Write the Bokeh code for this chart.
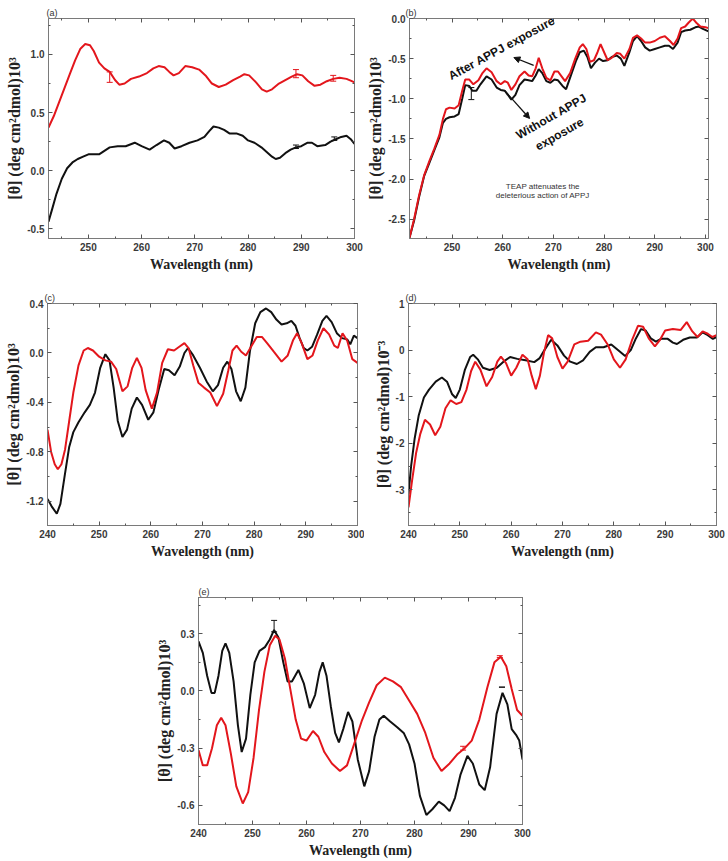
from bokeh.plotting import figure
from bokeh.models import (Range1d, FixedTicker, PrintfTickFormatter, LinearAxis, Label,
                          Arrow, NormalHead, Whisker, TeeHead, ColumnDataSource, Spacer,
                          CustomJSTickFormatter)
from bokeh.layouts import column, row
from bokeh.embed import file_html
from bokeh.resources import INLINE

# ---------------- data (wavelength nm, ellipticity) ----------------
a_red = [(242.5, 0.37), (243.5, 0.47), (244.5, 0.59), (245.5, 0.71), (246.5, 0.83), (247.5, 0.95),
         (248.5, 1.05), (249.4, 1.09), (250.3, 1.08), (251.0, 1.03), (252.0, 0.93), (253.0, 0.88),
         (254.0, 0.85), (255.0, 0.78), (255.8, 0.74), (256.8, 0.75), (258.0, 0.79), (259.5, 0.81),
         (261.0, 0.84), (262.2, 0.88), (263.2, 0.90), (264.3, 0.89), (265.2, 0.85), (266.0, 0.82),
         (267.0, 0.84), (268.2, 0.90), (269.5, 0.89), (270.8, 0.87), (272.0, 0.82), (273.2, 0.75),
         (274.5, 0.72), (275.8, 0.74), (277.2, 0.78), (278.5, 0.81), (279.3, 0.83), (280.2, 0.82),
         (281.5, 0.76), (282.6, 0.70), (283.5, 0.68), (284.5, 0.70), (285.8, 0.75), (287.0, 0.78),
         (288.2, 0.81), (289.2, 0.83), (290.2, 0.82), (291.3, 0.77), (292.5, 0.73), (293.6, 0.74),
         (294.8, 0.77), (296.0, 0.79), (297.2, 0.80), (298.5, 0.79), (299.5, 0.77), (300.0, 0.76)]
a_blk = [(242.5, -0.44), (243.2, -0.33), (244.0, -0.20), (245.0, -0.07), (246.0, 0.02), (247.0, 0.07),
         (248.0, 0.10), (249.0, 0.12), (250.0, 0.14), (251.0, 0.14), (252.0, 0.14), (253.0, 0.17),
         (254.0, 0.20), (255.5, 0.21), (257.0, 0.21), (258.7, 0.24), (260.0, 0.21), (261.5, 0.18),
         (262.8, 0.22), (264.2, 0.26), (265.2, 0.24), (266.2, 0.19), (267.5, 0.21), (269.0, 0.24),
         (270.5, 0.26), (271.8, 0.29), (272.7, 0.34), (273.5, 0.38), (274.5, 0.37), (275.5, 0.35),
         (276.5, 0.32), (277.8, 0.32), (279.0, 0.30), (280.0, 0.26), (281.2, 0.24), (282.5, 0.20),
         (283.5, 0.16), (284.5, 0.12), (285.2, 0.10), (286.0, 0.11), (287.0, 0.15), (288.0, 0.18),
         (289.0, 0.20), (290.0, 0.21), (291.2, 0.24), (292.0, 0.24), (293.0, 0.21), (294.5, 0.22),
         (295.5, 0.25), (296.5, 0.27), (297.5, 0.29), (298.5, 0.30), (299.3, 0.27), (300.0, 0.23)]
b_red = [(241.6, -2.73), (242.5, -2.50), (243.5, -2.20), (244.5, -1.95), (245.5, -1.78), (246.5, -1.62),
         (247.5, -1.45), (248.2, -1.25), (248.8, -1.13), (249.5, -1.11), (250.5, -1.12), (251.3, -1.08),
         (252.0, -0.90), (252.6, -0.76), (253.4, -0.76), (254.2, -0.82), (255.2, -0.77), (256.0, -0.68),
         (256.8, -0.62), (257.8, -0.67), (258.8, -0.78), (259.6, -0.82), (260.4, -0.78), (261.0, -0.80),
         (261.7, -0.89), (262.5, -0.82), (263.3, -0.72), (264.3, -0.66), (265.1, -0.71), (265.8, -0.72),
         (266.5, -0.62), (267.1, -0.49), (267.8, -0.62), (268.6, -0.74), (269.4, -0.77), (270.2, -0.66),
         (270.9, -0.66), (271.6, -0.72), (272.3, -0.78), (273.3, -0.68), (274.3, -0.50), (275.2, -0.36),
         (275.8, -0.32), (276.5, -0.38), (277.2, -0.54), (278.0, -0.52), (278.7, -0.42), (279.3, -0.32),
         (280.0, -0.42), (280.7, -0.52), (281.5, -0.49), (282.5, -0.43), (283.2, -0.44), (284.0, -0.50),
         (285.0, -0.38), (285.7, -0.24), (286.5, -0.21), (287.3, -0.25), (288.1, -0.30), (289.0, -0.30),
         (290.0, -0.28), (291.0, -0.24), (292.0, -0.22), (293.0, -0.28), (293.7, -0.33), (294.5, -0.25),
         (295.2, -0.12), (296.0, -0.10), (296.7, -0.05), (297.5, 0.00), (298.3, -0.06), (299.0, -0.10),
         (300.0, -0.11), (300.6, -0.12)]
b_blk = [(241.6, -2.73), (242.5, -2.52), (243.5, -2.22), (244.5, -1.96), (245.5, -1.80), (246.5, -1.64),
         (247.5, -1.48), (248.2, -1.30), (248.8, -1.25), (249.5, -1.23), (250.5, -1.22), (251.3, -1.19),
         (252.0, -1.00), (252.6, -0.83), (253.4, -0.84), (254.0, -0.90), (254.8, -0.90), (255.6, -0.82),
         (256.8, -0.72), (257.8, -0.76), (258.8, -0.86), (259.6, -0.89), (260.4, -0.90), (261.0, -0.95),
         (261.7, -1.01), (262.5, -0.95), (263.3, -0.83), (264.3, -0.76), (265.1, -0.77), (265.8, -0.78),
         (266.5, -0.71), (267.1, -0.63), (267.8, -0.68), (268.6, -0.78), (269.4, -0.80), (270.2, -0.76),
         (270.9, -0.77), (271.8, -0.84), (272.5, -0.88), (273.5, -0.70), (274.5, -0.52), (275.2, -0.42),
         (276.0, -0.40), (276.7, -0.48), (277.4, -0.62), (278.2, -0.55), (279.0, -0.50), (279.8, -0.53),
         (280.7, -0.52), (281.5, -0.48), (282.5, -0.46), (283.3, -0.50), (284.0, -0.59), (285.0, -0.42),
         (285.7, -0.28), (286.5, -0.22), (287.3, -0.28), (288.1, -0.36), (289.0, -0.40), (290.0, -0.38),
         (291.0, -0.36), (292.0, -0.34), (292.8, -0.34), (293.6, -0.38), (294.5, -0.30), (295.2, -0.17),
         (296.0, -0.15), (297.0, -0.14), (298.0, -0.11), (298.7, -0.10), (299.5, -0.13), (300.6, -0.16)]
c_red = [(240.0, -0.62), (240.7, -0.80), (241.4, -0.90), (242.0, -0.94), (242.7, -0.90), (243.4, -0.78),
         (244.2, -0.55), (245.0, -0.32), (246.0, -0.10), (247.0, 0.02), (247.8, 0.04), (248.8, 0.02),
         (250.0, -0.03), (251.2, -0.06), (252.3, -0.07), (253.3, -0.13), (254.5, -0.31), (255.5, -0.27),
         (256.4, -0.12), (257.3, -0.04), (258.2, -0.12), (259.0, -0.30), (260.2, -0.45), (261.2, -0.32),
         (262.2, -0.08), (263.3, 0.03), (264.5, 0.02), (265.5, 0.05), (266.5, 0.08), (267.3, 0.04),
         (268.2, -0.10), (269.2, -0.24), (270.3, -0.28), (271.5, -0.32), (272.8, -0.43), (274.0, -0.33),
         (275.0, -0.14), (275.8, 0.02), (276.6, 0.06), (277.5, 0.01), (278.4, -0.02), (279.4, 0.05),
         (280.5, 0.13), (281.5, 0.13), (282.5, 0.08), (283.8, 0.01), (285.3, -0.07), (286.5, -0.02),
         (287.5, 0.10), (288.3, 0.16), (289.2, 0.08), (290.3, -0.05), (291.3, -0.02), (292.3, 0.10),
         (293.4, 0.20), (294.5, 0.15), (295.5, 0.06), (296.2, 0.04), (297.1, 0.16), (298.0, 0.10),
         (299.0, -0.05), (300.0, -0.08)]
c_blk = [(240.0, -1.18), (240.8, -1.24), (241.8, -1.30), (242.5, -1.22), (243.3, -1.00), (244.2, -0.76),
         (245.0, -0.64), (246.0, -0.56), (247.2, -0.48), (248.2, -0.42), (249.2, -0.32), (250.2, -0.12),
         (251.2, -0.01), (252.0, -0.06), (252.8, -0.28), (253.6, -0.55), (254.5, -0.68), (255.4, -0.62),
         (256.3, -0.45), (257.3, -0.36), (258.3, -0.42), (259.5, -0.54), (260.5, -0.48), (261.5, -0.30),
         (262.6, -0.13), (263.5, -0.14), (264.6, -0.18), (265.6, -0.11), (266.5, 0.00), (267.2, 0.04),
         (268.2, -0.02), (269.5, -0.12), (270.8, -0.23), (272.0, -0.31), (273.0, -0.26), (274.0, -0.12),
         (274.8, -0.07), (275.6, -0.13), (276.5, -0.31), (277.4, -0.39), (278.3, -0.28), (279.2, 0.02),
         (280.2, 0.24), (281.2, 0.33), (282.3, 0.36), (283.3, 0.33), (284.3, 0.27), (285.3, 0.23),
         (286.3, 0.24), (287.2, 0.26), (288.0, 0.22), (288.8, 0.12), (289.6, 0.04), (290.3, 0.02),
         (291.2, 0.05), (292.2, 0.15), (293.2, 0.26), (294.0, 0.30), (295.0, 0.25), (296.0, 0.16),
         (297.0, 0.12), (298.0, 0.11), (298.6, 0.07), (299.3, 0.14), (300.0, 0.12)]
d_red = [(240.0, -3.38), (240.7, -2.80), (241.5, -2.20), (242.3, -1.80), (243.2, -1.50), (244.2, -1.60),
         (245.2, -1.83), (246.2, -1.65), (247.2, -1.25), (248.2, -1.08), (249.3, -1.16), (250.3, -1.12),
         (251.3, -0.85), (252.2, -0.45), (253.0, -0.25), (254.0, -0.42), (255.2, -0.78), (256.3, -0.58),
         (257.3, -0.25), (258.0, -0.14), (259.0, -0.28), (260.0, -0.55), (261.0, -0.38), (262.2, -0.10),
         (263.2, -0.20), (264.0, -0.55), (264.8, -0.84), (265.6, -0.55), (266.4, -0.05), (267.2, 0.32),
         (268.0, 0.25), (269.0, -0.15), (270.0, -0.40), (271.0, -0.25), (272.3, 0.12), (273.5, 0.18),
         (275.0, 0.20), (276.5, 0.38), (277.5, 0.33), (278.8, 0.12), (280.0, -0.20), (281.2, -0.38),
         (282.3, -0.20), (283.5, 0.20), (284.7, 0.52), (285.7, 0.50), (286.8, 0.25), (288.0, 0.08),
         (289.0, 0.22), (290.0, 0.42), (291.5, 0.45), (293.0, 0.43), (294.2, 0.60), (295.3, 0.40),
         (296.3, 0.28), (297.3, 0.40), (298.3, 0.35), (299.2, 0.28), (300.0, 0.32)]
d_blk = [(240.0, -3.10), (240.5, -2.50), (241.2, -1.90), (242.0, -1.40), (243.0, -1.02), (244.0, -0.85),
         (245.3, -0.68), (246.5, -0.59), (247.5, -0.68), (248.5, -0.95), (249.2, -1.03), (250.0, -0.85),
         (251.0, -0.42), (252.0, -0.15), (252.6, -0.10), (253.5, -0.20), (254.5, -0.38), (255.8, -0.43),
         (257.2, -0.38), (258.5, -0.25), (259.8, -0.15), (261.2, -0.19), (262.8, -0.22), (264.5, -0.26),
         (265.5, -0.18), (266.6, 0.02), (267.8, 0.22), (269.0, 0.10), (270.3, -0.12), (271.5, -0.25),
         (272.8, -0.30), (274.0, -0.22), (275.3, -0.04), (276.5, 0.06), (278.0, 0.06), (279.5, 0.12),
         (280.8, 0.00), (282.2, -0.13), (283.3, 0.00), (284.3, 0.25), (285.3, 0.45), (286.2, 0.42),
         (287.2, 0.25), (288.2, 0.18), (289.2, 0.24), (290.5, 0.24), (291.5, 0.16), (292.3, 0.13),
         (293.5, 0.22), (294.8, 0.27), (296.2, 0.27), (297.3, 0.38), (298.3, 0.32), (299.3, 0.24),
         (300.0, 0.28)]
e_red = [(240.0, -0.31), (240.8, -0.39), (241.6, -0.39), (242.5, -0.30), (243.4, -0.18), (244.2, -0.14),
         (245.0, -0.18), (246.0, -0.33), (247.0, -0.50), (248.2, -0.59), (249.2, -0.53), (250.2, -0.35),
         (251.2, -0.10), (252.2, 0.10), (253.2, 0.24), (254.2, 0.29), (255.0, 0.27), (256.0, 0.17),
         (257.0, 0.01), (258.0, -0.15), (259.0, -0.25), (260.0, -0.26), (261.2, -0.21), (262.2, -0.24),
         (263.3, -0.32), (264.7, -0.38), (266.2, -0.42), (267.5, -0.39), (268.8, -0.28), (270.2, -0.16),
         (271.6, -0.06), (273.0, 0.03), (274.5, 0.07), (276.0, 0.05), (277.5, 0.02), (279.0, -0.05),
         (280.5, -0.12), (282.0, -0.22), (283.5, -0.35), (285.0, -0.42), (286.5, -0.38), (288.0, -0.33),
         (289.3, -0.30), (290.6, -0.26), (292.0, -0.15), (293.5, 0.02), (294.8, 0.15), (296.0, 0.18),
         (297.0, 0.13), (298.0, 0.01), (299.0, -0.10), (300.0, -0.13)]
e_blk = [(240.0, 0.26), (240.8, 0.20), (241.6, 0.08), (242.4, -0.01), (243.0, -0.01), (243.7, 0.08),
         (244.4, 0.21), (245.0, 0.25), (245.7, 0.20), (246.5, 0.05), (247.3, -0.18), (248.0, -0.32),
         (248.8, -0.25), (249.6, -0.02), (250.4, 0.15), (251.3, 0.21), (252.3, 0.23), (253.2, 0.27),
         (254.0, 0.32), (254.8, 0.28), (255.7, 0.15), (256.5, 0.05), (257.3, 0.05), (258.5, 0.11),
         (259.5, 0.04), (260.6, -0.09), (261.6, -0.02), (262.4, 0.10), (263.0, 0.15), (263.7, 0.08),
         (264.5, -0.08), (265.3, -0.22), (266.0, -0.27), (266.8, -0.20), (267.7, -0.11), (268.5, -0.16),
         (269.5, -0.36), (270.7, -0.50), (271.6, -0.42), (272.6, -0.24), (273.5, -0.15), (274.3, -0.13),
         (275.5, -0.16), (276.8, -0.19), (278.0, -0.22), (279.0, -0.28), (280.0, -0.38), (281.0, -0.55),
         (282.2, -0.65), (283.3, -0.62), (284.5, -0.58), (285.5, -0.60), (286.5, -0.63), (287.5, -0.56),
         (288.5, -0.44), (289.8, -0.34), (290.8, -0.38), (292.0, -0.49), (293.0, -0.52), (294.0, -0.40),
         (295.2, -0.12), (296.3, -0.01), (297.2, -0.07), (298.0, -0.20), (298.8, -0.23), (299.4, -0.26),
         (300.0, -0.36)]

# error bars: (x, low, high)
a_err_red = [(254.0, 0.76, 0.85), (289.0, 0.80, 0.87), (296.0, 0.77, 0.82)]
a_err_blk = [(289.0, 0.19, 0.22), (296.2, 0.26, 0.29)]
b_err_blk = [(253.8, -1.01, -0.86)]
e_err_blk = [(254.0, 0.31, 0.37), (296.2, 0.02, 0.02)]
e_err_red = [(289.0, -0.31, -0.29), (295.8, 0.175, 0.185)]

# axis ticks
x_ticks_ab = [250, 260, 270, 280, 290, 300]
x_ticks_cde = [240, 250, 260, 270, 280, 290, 300]
a_yticks = [-0.5, 0.0, 0.5, 1.0]
b_yticks = [-2.5, -2.0, -1.5, -1.0, -0.5, 0.0]
c_yticks = [-1.2, -0.8, -0.4, 0.0, 0.4]
d_yticks = [-3, -2, -1, 0, 1]
e_yticks = [-0.6, -0.3, 0.0, 0.3]

RED = "#e3161c"
BLK = "#111111"
GRAY = "#7a7a7a"


def minors(ticks):
    step = ticks[1] - ticks[0]
    out = [t - step / 2 for t in ticks]
    out.append(ticks[-1] + step / 2)
    return out


def style(ax, ticks, fmt, labels=True):
    ax.ticker = FixedTicker(ticks=ticks, minor_ticks=minors(ticks))
    ax.major_tick_in = 4
    ax.major_tick_out = 0
    ax.minor_tick_in = 2
    ax.minor_tick_out = 0
    ax.axis_line_color = GRAY
    ax.major_tick_line_color = "#555555"
    ax.minor_tick_line_color = "#555555"
    ax.major_label_text_font = "Liberation Sans"
    ax.major_label_text_font_style = "bold"
    ax.major_label_text_font_size = "10px"
    ax.major_label_text_color = "#3a3a3a"
    ax.major_label_standoff = 4
    if labels:
        ax.formatter = PrintfTickFormatter(format=fmt)
    else:
        ax.formatter = CustomJSTickFormatter(code="return ''")
        ax.major_label_standoff = 0


def panel(tag, tag_off, xr, yr, xt, yt, yfmt, ylabel, w, h, bl, br, bt, bb):
    p = figure(width=w, height=h, x_range=Range1d(*xr), y_range=Range1d(*yr),
               output_backend="svg", toolbar_location=None,
               min_border_left=bl, min_border_right=br, min_border_top=bt, min_border_bottom=bb,
               x_axis_label="Wavelength (nm)", y_axis_label=ylabel)
    p.grid.visible = False
    p.outline_line_color = GRAY
    p.outline_line_width = 1
    p.title.text = tag
    p.title.text_font = "Liberation Sans"
    p.title.text_font_style = "normal"
    p.title.text_font_size = "9px"
    p.title.text_color = "#333333"
    p.title.align = "left"
    p.title.offset = tag_off
    p.title.standoff = 1
    for ax in p.xaxis:
        style(ax, xt, "%d")
        ax.axis_label_text_font = "Liberation Serif"
        ax.axis_label_text_font_style = "bold"
        ax.axis_label_text_font_size = "14px"
        ax.axis_label_text_color = "#222222"
        ax.axis_label_standoff = 3
    for ax in p.yaxis:
        style(ax, yt, yfmt)
        ax.axis_label_text_font = "Liberation Serif"
        ax.axis_label_text_font_style = "bold"
        ax.axis_label_text_font_size = "16px"
        ax.axis_label_text_color = "#222222"
        ax.axis_label_standoff = 1
    top = LinearAxis()
    style(top, xt, "%d", labels=False)
    p.add_layout(top, "above")
    right = LinearAxis()
    style(right, yt, yfmt, labels=False)
    p.add_layout(right, "right")
    return p


def curve(p, pts, color):
    p.line([q[0] for q in pts], [q[1] for q in pts], line_color=color, line_width=2)


def errs(p, pts, color):
    src = ColumnDataSource(dict(x=[q[0] for q in pts], lo=[q[1] for q in pts], hi=[q[2] for q in pts]))
    p.add_layout(Whisker(source=src, base="x", lower="lo", upper="hi", line_color=color, line_width=1,
                         lower_head=TeeHead(size=6, line_color=color, line_width=1),
                         upper_head=TeeHead(size=6, line_color=color, line_width=1)))


YL3 = "[θ] (deg cm²dmol)10³"
YLm3 = "[θ] (deg cm²dmol)10⁻³"

pa = panel("(a)", -2, (242.5, 300), (-0.585, 1.31), x_ticks_ab, a_yticks, "%.1f", YL3,
           364, 290, 48, 10, 15, 51)
curve(pa, a_red, RED)
curve(pa, a_blk, BLK)
errs(pa, a_err_red, RED)
errs(pa, a_err_blk, BLK)

pb = panel("(b)", -4, (241.6, 300.6), (-2.74, 0.0), x_ticks_ab, b_yticks, "%.1f", YL3,
           364, 290, 43, 20, 18, 52)
curve(pb, b_blk, BLK)
curve(pb, b_red, RED)
errs(pb, b_err_blk, BLK)
ann = dict(text_font="Liberation Sans", text_font_style="bold", text_font_size="12px",
           text_align="center", text_baseline="middle", text_color="#111111")
pb.add_layout(Label(x=259.8, y=-0.37, text="After APPJ exposure", angle=0.5, **ann))
pb.add_layout(Label(x=269.6, y=-1.22, text="Without APPJ", angle=0.52, **ann))
pb.add_layout(Label(x=271.2, y=-1.44, text="exposure", angle=0.52, **ann))
note = dict(text_font="Liberation Sans", text_font_size="8px", text_align="center",
            text_baseline="middle", text_color="#333333")
pb.add_layout(Label(x=267.9, y=-2.09, text="TEAP attenuates the", **note))
pb.add_layout(Label(x=267.9, y=-2.21, text="deleterious action of APPJ", **note))
pb.add_layout(Arrow(x_start=266.1, y_start=-0.585, x_end=262.2, y_end=-0.486,
                    line_color="#111111", line_width=1.3,
                    end=NormalHead(size=6, fill_color="#111111", line_color="#111111")))
pb.add_layout(Arrow(x_start=260.4, y_start=-0.90, x_end=265.3, y_end=-1.245,
                    line_color="#111111", line_width=1.3,
                    end=NormalHead(size=6, fill_color="#111111", line_color="#111111")))

pc = panel("(c)", -3, (240, 300), (-1.395, 0.4), x_ticks_cde, c_yticks, "%.1f", YL3,
           364, 285, 47, 7, 8, 49)
curve(pc, c_blk, BLK)
curve(pc, c_red, RED)

pd_ = panel("(d)", -3, (240, 300), (-3.77, 1.0), x_ticks_cde, d_yticks, "%d", YLm3,
            364, 285, 44, 12, 7, 50)
curve(pd_, d_blk, BLK)
curve(pd_, d_red, RED)

pe = panel("(e)", 0, (240, 300), (-0.70, 0.49), x_ticks_cde, e_yticks, "%.1f", YL3,
           384, 285, 48, 12, 22, 32)
curve(pe, e_blk, BLK)
curve(pe, e_red, RED)
errs(pe, e_err_blk, BLK)
errs(pe, e_err_red, RED)

layout = column(row(pa, pb), row(pc, pd_), row(Spacer(width=150, height=285), pe))

open("out.html", "w").write(file_html(layout, INLINE))
